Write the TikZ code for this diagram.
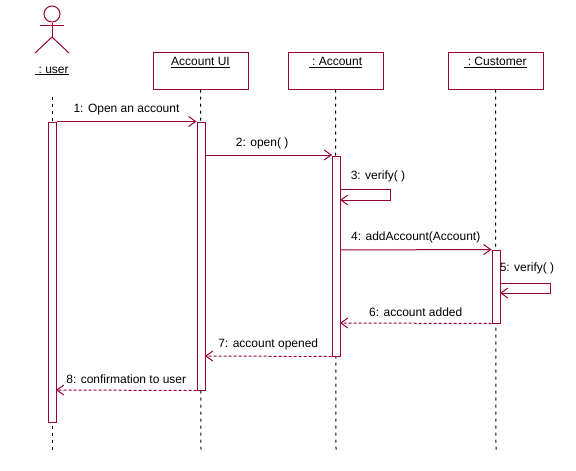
\documentclass[tikz,border=0pt]{standalone}
\usepackage{fontspec}
\setmainfont{Liberation Sans}
\usetikzlibrary{arrows.meta}
\definecolor{uml}{HTML}{990033}
\begin{document}
\begin{tikzpicture}[x=1pt,y=-1pt,line width=1pt,
  font=\fontsize{12}{14}\selectfont,
  obj/.style={draw=uml,minimum width=95pt,minimum height=37pt,inner sep=0pt,text height=9pt,text depth=19pt},
  life/.style={draw=black,dash pattern=on 3pt off 4pt},
  act/.style={draw=uml,fill=white,minimum width=8pt,inner sep=0pt},
  msg/.style={draw=uml,-{Straight Barb[length=7pt,width=10pt,line width=1pt]}},
  ret/.style={msg,dash pattern=on 3pt off 2pt},
  lbl/.style={inner sep=0pt}]
\useasboundingbox (0,0) rectangle (576,471);
% actor
\node[draw=uml,circle,minimum size=16pt,inner sep=0pt] (head) at (52,14) {};
\draw[uml] (head.south) -- (52,37) coordinate (hip);
\draw[uml] (40,25) -- (64,25);
\draw[uml] (35,53) -- (hip) -- (69,53);
\node[lbl] (user) at (52,71) {\underline{\ :\ user}};
\node[obj] (ui) at (200.5,70.5) {\underline{Account UI}};
\node[obj] (acc) at (335.5,70.5) {\underline{\ :\ Account}};
\node[obj] (cus) at (495.5,70.5) {\underline{\ :\ Customer}};
% lifelines
\coordinate (l1) at (52,450); \coordinate (l2) at (201,450);
\coordinate (l3) at (336,450); \coordinate (l4) at (496,450);
\draw[life] (52,97) -- (l1);
\draw[life] (ui.south) -- (l2);
\draw[life] (acc.south) -- (l3);
\draw[life] (cus.south) -- (l4);
% activations
\node[act,minimum height=300pt] (a1) at (52,272) {};
\node[act,minimum height=268pt] (a2) at (201,256) {};
\node[act,minimum height=200pt] (a3) at (336,256) {};
\node[act,minimum height=73pt] (a4) at (496,286.5) {};
% messages
\draw[msg] (a1.north east) -- (a2.north west) node[lbl,midway,above=6pt,xshift=0pt] {1: Open an account};
\draw[msg] (205,155) -- (332,155) coordinate (m2) node[lbl,pos=0.45,above=6pt] {2: open( )};
\coordinate (s3a) at (390,189); \coordinate (s3b) at (390,200);
\draw[msg] (340,189) -- (s3a) -- (s3b) -- (340,200);
\node[lbl] (t3) at (378,176) {3: verify( )};
\draw[msg] (340,250) -- (a4.north west) node[lbl,midway,above=6pt] {4: addAccount(Account)};
\coordinate (s5a) at (550,283); \coordinate (s5b) at (550,293);
\draw[msg] (500,283) -- (s5a) -- (s5b) -- (500,293);
\node[lbl] (t5) at (527,268) {5: verify( )};
\draw[ret] (a4.south west) -- (340,323) node[lbl,midway,above=6pt] {6: account added};
\draw[ret] (a3.south west) -- (205,356) node[lbl,midway,above=6pt] {7: account opened};
\draw[ret] (a2.south west) -- (56,390) node[lbl,midway,above=6pt] {8: confirmation to user};
\end{tikzpicture}
\end{document}
